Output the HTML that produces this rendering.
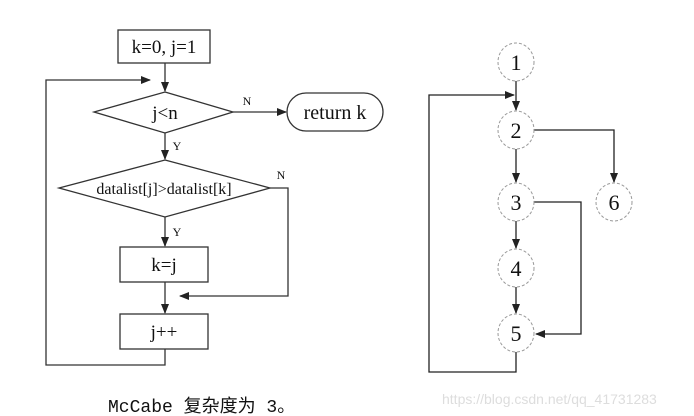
<!DOCTYPE html>
<html><head><meta charset="utf-8"><style>
html,body{margin:0;padding:0;background:#fff;}
svg{display:block;}
</style></head><body>
<svg width="694" height="416" viewBox="0 0 694 416" xmlns="http://www.w3.org/2000/svg">
<defs>
<marker id="a" markerWidth="10" markerHeight="8" refX="9" refY="4" orient="auto" markerUnits="userSpaceOnUse">
<path d="M0,0 L10,4 L0,8 z" fill="#222"/></marker>
</defs>
<g fill="none" stroke="#333" stroke-width="1.3">
<rect x="118" y="30" width="92" height="33"/>
<line x1="165" y1="63" x2="165" y2="91" marker-end="url(#a)"/>
<polyline points="165,349 165,365 46,365 46,80 150,80" marker-end="url(#a)"/>
<polygon points="165,92 233,112 165,133 94,112"/>
<line x1="233" y1="112" x2="286" y2="112" marker-end="url(#a)"/>
<rect x="287" y="93" width="96" height="38" rx="19"/>
<line x1="165" y1="133" x2="165" y2="159" marker-end="url(#a)"/>
<polygon points="165,160 270,188 165,217 59,188"/>
<polyline points="270,188 288,188 288,296 180,296" marker-end="url(#a)"/>
<line x1="165" y1="217" x2="165" y2="246" marker-end="url(#a)"/>
<rect x="120" y="247" width="88" height="35"/>
<line x1="165" y1="282" x2="165" y2="313" marker-end="url(#a)"/>
<rect x="120" y="314" width="88" height="35"/>
</g>
<g font-family="Liberation Serif, serif" fill="#111" text-anchor="middle">
<text x="164" y="53" font-size="19">k=0,  j=1</text>
<text x="165" y="119" font-size="19">j&lt;n</text>
<text x="335" y="119" font-size="20">return  k</text>
<text x="164" y="194" font-size="16">datalist[j]&gt;datalist[k]</text>
<text x="164" y="271" font-size="19">k=j</text>
<text x="164" y="338" font-size="19">j++</text>
<text x="247" y="105" font-size="12">N</text>
<text x="281" y="179" font-size="12">N</text>
<text x="177" y="150" font-size="12">Y</text>
<text x="177" y="236" font-size="12">Y</text>
</g>
<text x="108" y="412" font-family="Liberation Mono, 'Noto Sans CJK SC', monospace" font-size="18" fill="#111">McCabe 复杂度为 3。</text>
<g fill="none" stroke="#222" stroke-width="1.3">
<line x1="516" y1="80" x2="516" y2="110" marker-end="url(#a)"/>
<polyline points="516,351 516,372 429,372 429,95 514,95" marker-end="url(#a)"/>
<line x1="516" y1="149" x2="516" y2="182" marker-end="url(#a)"/>
<polyline points="534,130 614,130 614,182" marker-end="url(#a)"/>
<line x1="516" y1="221" x2="516" y2="248" marker-end="url(#a)"/>
<polyline points="534,202 581,202 581,334 536,334" marker-end="url(#a)"/>
<line x1="516" y1="287" x2="516" y2="313" marker-end="url(#a)"/>
</g>
<g fill="#fff" stroke="#999" stroke-width="1" stroke-dasharray="3,2">
<ellipse cx="516" cy="62" rx="18" ry="19"/>
<ellipse cx="516" cy="130" rx="18" ry="19"/>
<ellipse cx="516" cy="202" rx="18" ry="19"/>
<ellipse cx="516" cy="268" rx="18" ry="19"/>
<ellipse cx="516" cy="333" rx="18" ry="19"/>
<ellipse cx="614" cy="202" rx="18" ry="19"/>
</g>
<g font-family="Liberation Serif, serif" font-size="22" fill="#111" text-anchor="middle">
<text x="516" y="70">1</text>
<text x="516" y="138">2</text>
<text x="516" y="210">3</text>
<text x="516" y="276">4</text>
<text x="516" y="341">5</text>
<text x="614" y="210">6</text>
</g>
<text x="442" y="404" font-family="Liberation Sans, sans-serif" font-size="14" fill="#ddd">https://blog.csdn.net/qq_41731283</text>
</svg>
</body></html>
